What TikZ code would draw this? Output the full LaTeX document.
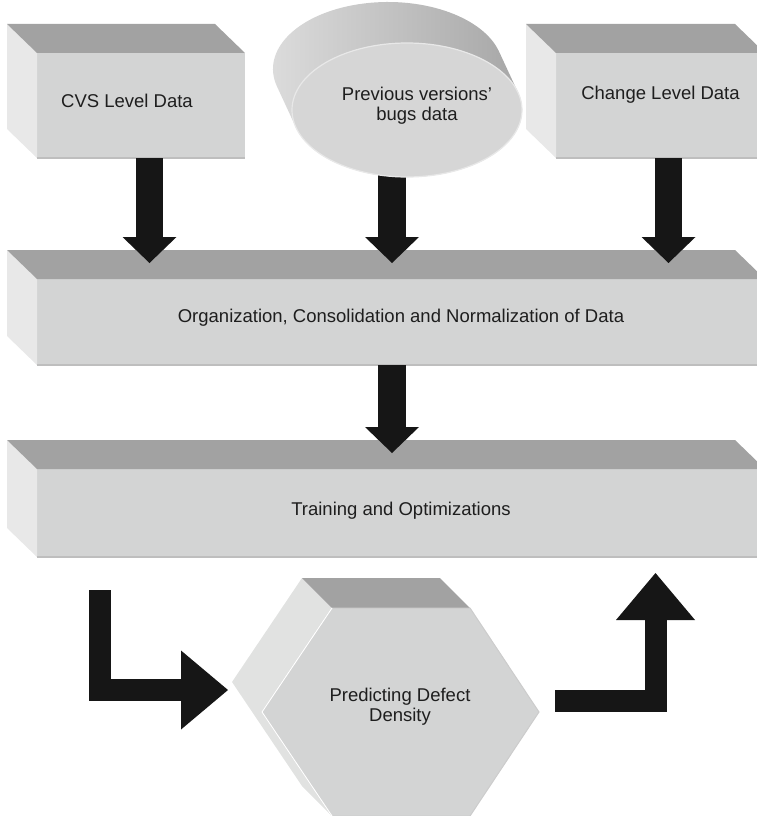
\documentclass[tikz,border=0pt]{standalone}
\usepackage{fontspec}
\setmainfont{Liberation Sans}
\usetikzlibrary{arrows.meta}
\definecolor{topface}{HTML}{A2A2A2}
\definecolor{frontface}{HTML}{D3D4D4}
\definecolor{sideface}{HTML}{E8E8E8}
\definecolor{hexside}{HTML}{E1E2E1}
\definecolor{rimline}{HTML}{BEBEBE}
\definecolor{blockarrow}{HTML}{161616}
\definecolor{textgray}{HTML}{1E1E1E}
\begin{document}
\begin{tikzpicture}[x=1pt,y=-1pt,font=\fontsize{18.5}{20}\selectfont,text=textgray,
  front/.style={fill=frontface,inner sep=0pt,outer sep=0pt,anchor=north west},
  down/.style={color=blockarrow,line width=27.5pt,shorten >=16pt,
    -{Triangle[width=54pt,length=26pt,line width=0pt]}},
  elbow/.style={color=blockarrow,line width=22pt,
    -{Triangle[width=79pt,length=47pt,line width=0pt]}}]
\useasboundingbox (0,0) rectangle (757,816);
\clip (0,0) rectangle (757,816);
% front faces of the slabs
\node[front,minimum width=208pt,minimum height=105pt,
  label={[xshift=-14pt,yshift=4.5pt]center:CVS Level Data}] (cvs) at (37,53) {};
\node[front,minimum width=209pt,minimum height=105pt,
  label={[yshift=10.5pt]center:Change Level Data}] (chg) at (556,53) {};
\node[front,minimum width=728pt,minimum height=86pt,
  label={[yshift=4pt]center:Organization, Consolidation and Normalization of Data}] (org) at (37,279) {};
\node[front,minimum width=728pt,minimum height=88pt,
  label={[yshift=2.5pt]center:Training and Optimizations}] (train) at (37,469) {};
% side and top faces
\foreach \n in {cvs,chg,org,train}{
  \fill[sideface] (\n.north west) -- ++(-30,-29) -- ([shift={(-30,-29)}]\n.south west) -- (\n.south west) -- cycle;
  \fill[topface] (\n.north west) -- ++(-30,-29) -- ([shift={(-30,-29)}]\n.north east) -- (\n.north east) -- cycle;
  \draw[rimline,line width=1.5pt] (\n.south west) -- (\n.south east);
}
\coordinate (prevbase) at (392,150);
\draw[down] ([xshift=8.5pt]cvs.south) -- ([xshift=8.5pt]cvs.south |- org.north);
\draw[down] ([xshift=8pt]chg.south) -- ([xshift=8pt]chg.south |- org.north);
\draw[down] (prevbase) -- (prevbase |- org.north);
\draw[down] ([xshift=-9pt]org.south) -- ([xshift=-9pt]org.south |- train.north);
% the data store
\shade[left color=black!13,right color=black!36] (388,69) ++(164.9:115 and 67)
  arc[start angle=164.9,end angle=344.9,x radius=115,y radius=67] -- ++(19,41)
  arc[start angle=-15.1,end angle=164.9,x radius=115,y radius=67] -- cycle;
\filldraw[fill=black!16,draw=black!9,line width=1.2pt] (407,110) ellipse [x radius=115,y radius=67];
\node[align=center] (prev) at (417,106) {Previous versions'\\bugs data};
% hexagon
\fill[hexside] (302,578) -- (232,682) -- (302,786) -- (332,816) -- (262,712) -- (332,608) -- cycle;
\fill[topface] (302,578) -- (440,578) -- (470,608) -- (332,608) -- cycle;
\filldraw[fill=frontface,draw=black!20,line width=1pt] (332,608) -- (470,608) -- (539,712)
  -- (470,816) -- (332,816) -- (262,712) -- cycle;
\draw[white,line width=1pt] (332,608) -- (262,712) -- (332,816);
\node[align=center] (pdd) at (400,707) {Predicting Defect\\Density};
\coordinate (l0) at (100,590);
\coordinate (l1) at (228,690);
\coordinate (r0) at (555,700.5);
\coordinate (r1) at (655.5,573);
\draw[elbow] (l0) |- (l1);
\draw[elbow] (r0) -| (r1);
\end{tikzpicture}
\end{document}
